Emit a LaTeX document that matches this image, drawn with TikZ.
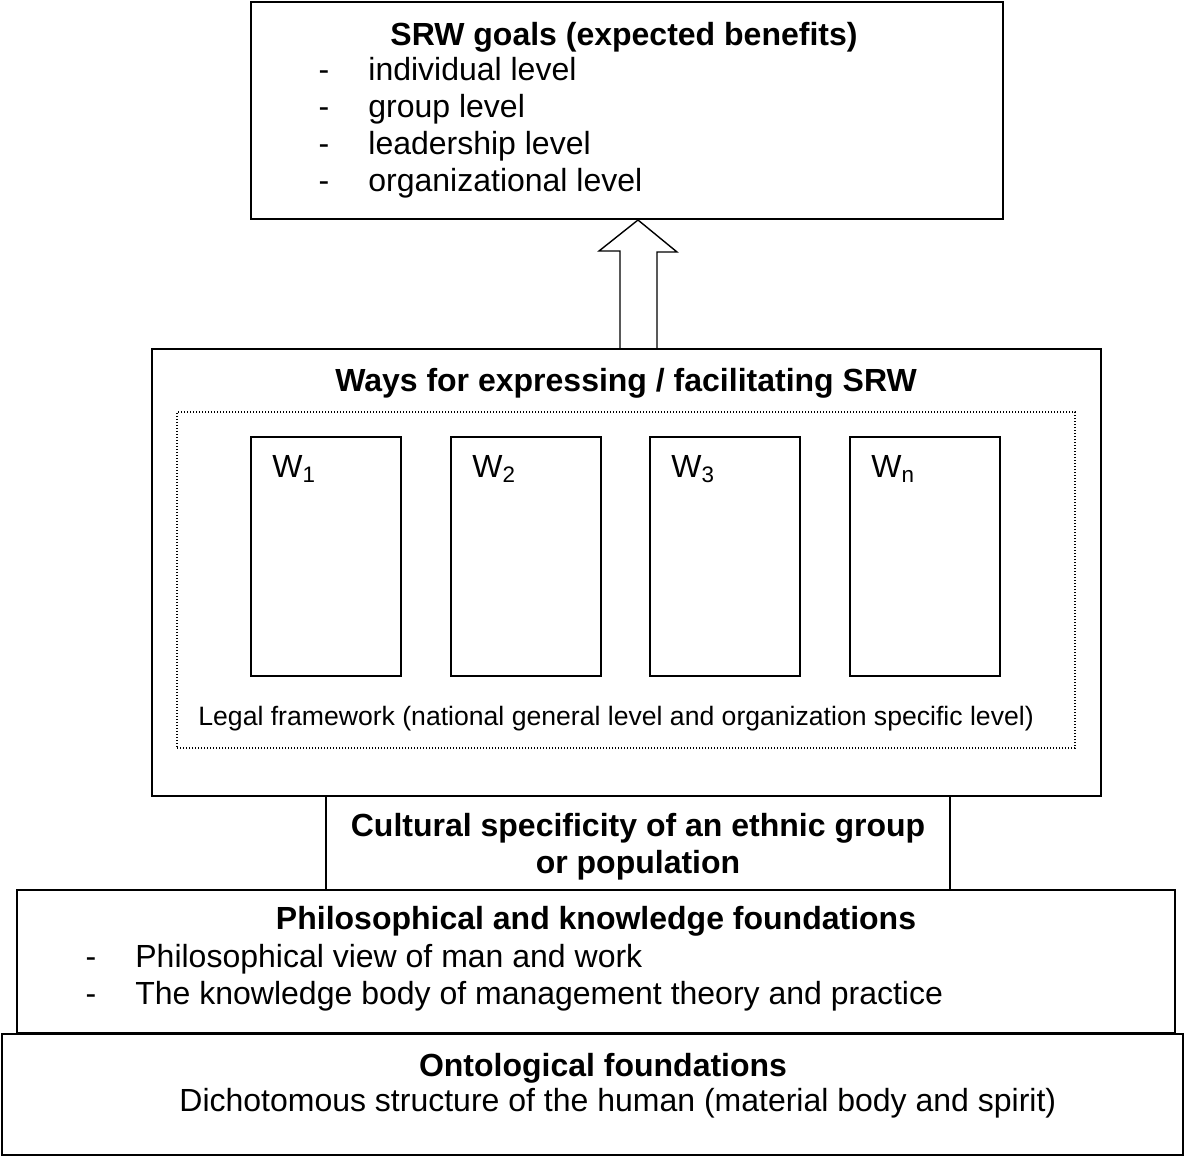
\documentclass[tikz,border=0pt]{standalone}
\usepackage{fontspec}
\setmainfont{Liberation Sans}
\usetikzlibrary{positioning}

\begin{document}
\begin{tikzpicture}[x=0.5pt,y=-0.5pt,
	box/.style={draw, line width=1pt, inner sep=0pt},
	wbox/.style={box, minimum width=75pt, minimum height=119.5pt},
	txt/.style={inner sep=0pt, font=\fontsize{16}{18.5}\selectfont},
	head/.style={inner sep=0pt, font=\fontsize{16}{18.5}\selectfont\bfseries},
	blockarrow/.style={draw, line width=0.7pt, line join=miter}]
			\useasboundingbox (0,0) rectangle (1184,1157);
			
			% Nodes
			\node[box, minimum width=376pt, minimum height=108.5pt] (goals) at (627,110.5) {};
			\node[head, anchor=base] (goalstitle) at (624,45) {SRW goals (expected benefits)};
			\foreach \t [count=\i] in {individual level, group level, leadership level, organizational level}
			{
				\node[txt, anchor=base] (gdash\i) at (324,43+37*\i) {-};
				\node[txt, anchor=base west] (goal\i) at (368,43+37*\i) {\t};
			}
			
			\node[box, minimum width=474.5pt, minimum height=223.5pt] (ways) at (626.5,572.5) {};
			\node[head, anchor=base] (waystitle) at (626,391) {Ways for expressing / facilitating SRW};
			\node[draw, line width=0.7pt, dash pattern=on 0.6pt off 0.9pt, inner sep=0pt,
			minimum width=449pt, minimum height=168pt] (legalframe) at (626,580) {};
			\foreach \n/\x in {1/326, 2/526, 3/725, n/925}
			{
				\node[wbox] (w\n) at (\x,556.5) {};
				\node[txt, anchor=base west] (wlabel\n) at ([xshift=11pt, yshift=-20.5pt]w\n.north west) {W\textsubscript{\n}};
			}
			\node[txt, anchor=base west, font=\fontsize{13.3}{16}\selectfont] (legal) at (198,725) {Legal framework (national general level and organization specific level)};
			
			\node[box, minimum width=312pt, minimum height=47pt] (culture) at (638,842.5) {};
			\node[head, anchor=base] (culture1) at (638,836.5) {Cultural specificity of an ethnic group};
			\node[head, anchor=base] (culture2) at (638,873.5) {or population};
			
			\node[box, minimum width=579pt, minimum height=71.5pt] (philo) at (596,961.5) {};
			\node[head, anchor=base] (philotitle) at (596,929.5) {Philosophical and knowledge foundations};
			\foreach \t [count=\i] in {Philosophical view of man and work, The knowledge body of management theory and practice}
			{
				\node[txt, anchor=base] (pdash\i) at (91,930.5+37*\i) {-};
				\node[txt, anchor=base west] (philo\i) at (135,930.5+37*\i) {\t};
			}
			
			\node[box, minimum width=590.5pt, minimum height=60.5pt] (onto) at (592.5,1094.5) {};
			\node[head, anchor=base] (ontotitle) at (603,1076.5) {Ontological foundations};
			\node[txt, anchor=base west] (onto1) at (179,1111) {Dichotomous structure of the human (material body and spirit)};
			
			% block arrow from the ways up to the goals
			\coordinate (tip) at ([xshift=5.5pt]goals.south);
			\draw[blockarrow] ([xshift=-9pt]tip |- ways.north) -- ++(0,-97) -- ++(-21,0) -- (tip)
			-- ++(39,32) -- ++(-20,0) -- ++(0,97);
			
\end{tikzpicture}
\end{document}
